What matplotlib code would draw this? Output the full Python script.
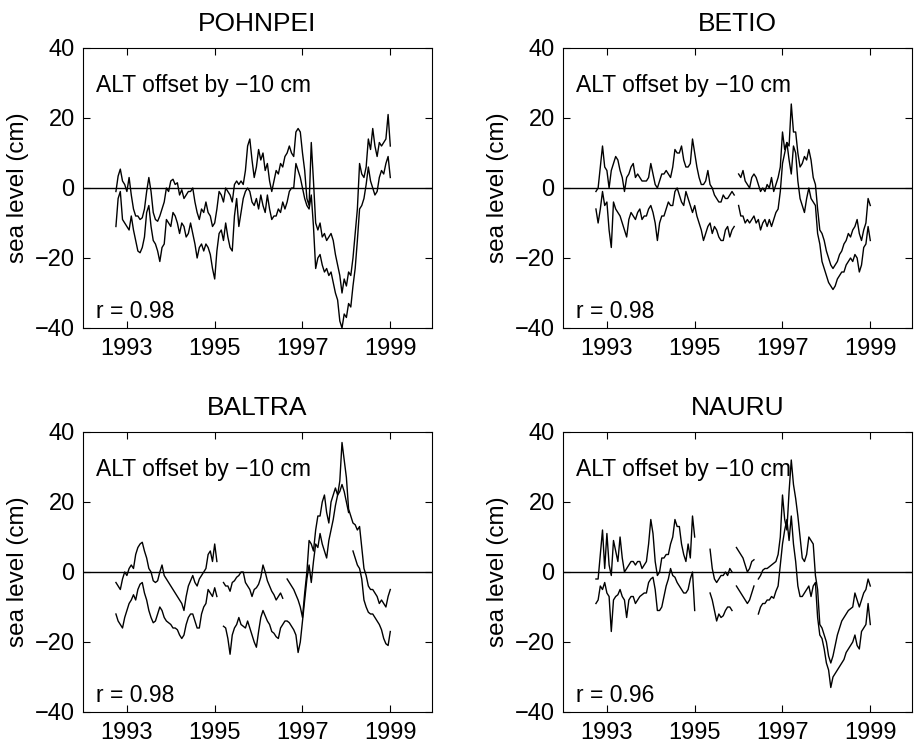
import numpy as np
import matplotlib
matplotlib.use('Agg')
import matplotlib.pyplot as plt

plt.rcParams['font.family'] = ['Liberation Sans', 'DejaVu Sans']

nan = np.nan

# sampling of the series: every 0.05 yr from 1992.75
t0 = 1992.75
dt = 0.05

# POHNPEI: tide gauge (upper) and altimeter offset by -10 cm (lower)
pohnpei_tg = [
    -1, 3.4, 5.4, 2, 1, -1, 3, -2, -6, -8,
    -8, -9, -8.5, -6, -1, 3, -1, -7, -9, -9.5,
    -8, -6, -4, 0, -1, 2, 2.5, 1, 1.5, -2,
    -0.5, -3, -2, -1, -1, 0, -4, -7, -9, -6,
    -7, -4, -7, -8, -11, -10, -6, -1, -2, -4,
    0, -1, -2, -4, 1, 2, 1, 2, 1, 5,
    12, 14, 8, 3, 6, 11, 8, 10, 5, 7,
    2, -1, 2, 5, 4, 7, 6, 9, 10, 12,
    10, 9, 16, 17, 16, 10, 5, -3, -5, 13,
    2, -10, -12, -10, -14, -13, -15, -14, -13, -15,
    -19, -22, -25, -30, -26, -28, -24, -25, -20, -13,
    -6, 7, 4, 3, 6, 14, 11, 17, 12, 9,
    13, 12, 13, 14, 21, 12]
pohnpei_alt = [
    -11, -3, -1, -9, -10, -11, -12, -8, -12, -15,
    -18, -18.5, -17, -14, -7, -5, -11, -15, -16, -18,
    -21, -17, -16, -9, -10, -11, -7, -8, -10, -13,
    -10, -11, -14, -13, -10, -13, -16, -20, -17, -16,
    -18, -16, -17, -19, -23, -26, -18, -13, -12, -15,
    -10, -14, -17, -18, -8, -3, -11, -7, -3, -1,
    0, -1, -4, -5, -3, -6, -2, -5, -7, -2,
    -6, -9, -8, -8, -6, -7, -4, -6, -4, -1,
    0, 0, 7, 5, 3, 0, -3, -5, -6, -2,
    -11, -23, -20, -19, -22, -24, -23, -25, -24, -27,
    -30, -32, -38, -40, -36, -37, -33, -34, -28, -23,
    -15, -6, -5, -3, 1, 6, 2, 0, -2, -1,
    3, 5, 4, 7, 9, 3]

# BETIO
betio_tg = [
    -1, 0, 6, 12, 6, 5, 0, 5, 7, 9,
    8, 5, 3, -1, 3, 4, 6, 7, 3, 4,
    3, 2, 2, 2, 3, 7, 4, 1, 0, 2,
    4, 4, 5, 4, 3, 6, 11, 10, 10, 12,
    8, 6, 6, 7, 14, 10, 6, 3, 1, 1,
    2, 5, 1, 0, -2, -3, -4, -4, -2, -3,
    -3, -2, -1, -2, nan, 4, 3, 5, 2, 1,
    0, 3, 4, 3, 1, -1, 0, -1, 1, 0,
    3, -1, 1, 3, 6, 16, 11, 13, 12, 24,
    16, 16, 10, 6, 7, 9, 8, 11, 8, 3,
    1, -6, -12, -13, -15, -18, -20, -22, -23, -22,
    -21, -19, -18, -16, -15, -13, -14, -12, -11, -9,
    -13, -15, -12, -10, -3, -5]
betio_alt = [
    -6, -10, -6, -1, -5, -4, -12, -17, -4, -6,
    -7, -8, -10, -12, -14, -9, -7, -8, -9, -7,
    -6, -9, -8, -8, -6, -5, -7, -10, -15, -10,
    -8, -8, -6, -4, -5, -5, -1, 0, -2, -4,
    -5, -1, -3, -5, -7, -5, -8, -10, -12, -15,
    -13, -11, -10, -13, -11, -12, -14, -15, -15, -12,
    -11, -14, -12, -11, nan, -5, -8, -8, -10, -9,
    -10, -9, -8, -10, -9, -12, -10, -9, -11, -9,
    -11, -9, -7, -6, -1, 7, 10, 13, 8, 4,
    12, 10, 2, -3, -5, -7, -3, 0, -3, -4,
    -5, -13, -16, -21, -23, -25, -27, -28, -29, -28,
    -26, -25, -24, -24, -22, -21, -20, -21, -19, -20,
    -24, -22, -17, -16, -11, -15]

# BALTRA
baltra_tg = [
    -3, -4, -5, -2, 0, -1, 1, 2, 1, 5,
    7, 8, 8.5, 6, 4, 1, 0, -2.5, -3, -2.5,
    0, 2, -1, -2, -3, -4, -5, -6, -7, -8,
    -9, -11, -7, -4, -2.5, -1, -3, -4, -2, -1,
    0, 1, 5, 6, 3, 8, 3, nan, nan, -3,
    -4, -4, -5.5, -3, -2.5, -1.5, -1, 0, 0, -3,
    -4, -5, -7, -5, -4.5, -3.5, -1.5, 2, 0, -2.5,
    -4, -5.5, -6.5, -8, -7, -6, -7.5, nan, -2, -3,
    -4, -5, -6.5, -8, -10, -13, -6, 0, 9, 8,
    6, 12, 16, 16, 20, 22, 17, 14, 20, 22,
    24, 22, 26, 37, 32, 27, 18, 16, 14, 13.5,
    12, 13, 7, 1, -1, -4, -5, -5, -6, -7,
    -9, -8, -9, -10, -7, -5]
baltra_alt = [
    -12, -14, -15, -16, -13, -11, -9, -8, -6.5, -8,
    -5, -3.5, -3, -6, -8, -11, -13, -14.5, -14, -12,
    -10, -11, -13, -14, -14.5, -15, -16, -16, -16.5, -18,
    -19, -18, -15, -13, -12, -12, -14, -16, -16, -12,
    -10, -9, -5, -6, -7, -4.5, -7, nan, nan, -15.5,
    -16, -19, -23.5, -18, -16, -15, -13, -15, -15.5, -16,
    -14, -16, -18, -20, -21.5, -17, -13, -11, -12.5, -14,
    -15, -17, -17.5, -18.5, -19, -16, -15, -14, -14, -14.5,
    -15.5, -16.5, -18, -23, -20, -14, -8, -2, 2, -3,
    3, 8, 7, 11, 8, 6, 4, 9, 12, 15,
    19, 22, 23, 25, 23, 20, 17, nan, 6, 4,
    2, 1, -2, -8, -10, -11.5, -12, -12, -13, -14,
    -15, -16.5, -19, -20.5, -21, -17]

# NAURU
nauru_tg = [
    -2, -2, 5, 12, 1, 11, 2, -1, 9, 6,
    3, 10, 4, 0, 1, 2, 3, 3, 2, 3,
    3, 1, 2, 3, 8, 15, 11, 3, -1, 0,
    4, 4, 5, 5, 8, 10, 15, 13, 13, 8,
    5, 3, 8, 4, 16, 10, nan, nan, nan, nan,
    nan, nan, 6.5, 1, -2, -3, -2, -1, -1, 0,
    -1, 1, 0, nan, 7, 6, 5, 4, 2, 0,
    1, 3, 3.5, nan, -2, -1, 0.5, 1, 1, 1.5,
    2, 2.5, 3, 5, 10, 22, 15, 12, 23, 32,
    25, 21, 16, 10, 4, 3, 5, 10, 9, 8,
    -1, -5, -15, -16, -18, -20, -24, -26, -24, -21,
    -18, -16, -14, -13, -12, -11, -10.5, -10, -6, -8,
    -10, -8, -6, -5, -2, -4]
nauru_alt = [
    -9, -8, -4, -5, -3, -6, -7, -17, -8, -7,
    -6.5, -5, -7, -8, -13, -8, -7, -7, -9, -8,
    -7, -6.5, -6, -6, -3, -2, -1.5, -5, -11, -11,
    -10, -7, -4, -2, 1, -1, -1.5, -3, -4, -5,
    -6, -6, -5, -2, 0, -11, nan, nan, nan, nan,
    nan, nan, -6, -8, -11, -14, -12, -13, -12.5, -11,
    -10, -10, -11, nan, -4, -5, -6, -7, -8, -9,
    -8, -6, -4, nan, -12, -10, -9, -9, -8, -8,
    -7, -7.5, -5.5, -4, 2, 8, 12, 15, 9, 16,
    8, 3, -4, -7, -7, -6, -5, -4, -7, -4,
    -3, -13, -18, -19, -22, -26, -28, -33, -30, -29,
    -28, -27, -26, -25, -23, -22, -21, -20, -18, -21,
    -22, -17, -16, -15, -9, -15]

stations = ['POHNPEI', 'BETIO', 'BALTRA', 'NAURU']
tide = [pohnpei_tg, betio_tg, baltra_tg, nauru_tg]
alti = [pohnpei_alt, betio_alt, baltra_alt, nauru_alt]
r_vals = ['0.98', '0.98', '0.98', '0.96']
xticks = [1993, 1995, 1997, 1999]
yticks = [-40, -20, 0, 20, 40]

W, H = 920, 748
fig = plt.figure(figsize=(W / 100, H / 100), dpi=100)
# axes boxes in pixels: left, top
boxes = [(83, 48), (563, 48), (83, 432), (563, 432)]
aw, ah = 349, 280

for i in range(4):
    l, top = boxes[i]
    ax = fig.add_axes([l / W, 1 - (top + ah) / H, aw / W, ah / H])
    tg = np.array(tide[i], dtype=float)
    al = np.array(alti[i], dtype=float)
    ax.plot(t0 + dt * np.arange(len(tg)), tg, color='k', lw=1.0)
    ax.plot(t0 + dt * np.arange(len(al)), al, color='k', lw=1.0)
    ax.axhline(0, color='k', lw=1.0)
    ax.set_xlim(1992, 1999.95)
    ax.set_ylim(-40, 40)
    ax.set_xticks(xticks)
    ax.set_yticks(yticks)
    ax.tick_params(direction='in', top=True, right=True, length=5,
                   width=0.8, labelsize=17)
    ax.tick_params(axis='x', pad=7)
    ax.tick_params(axis='y', pad=6)
    for s in ax.spines.values():
        s.set_linewidth(0.8)
    ax.set_title(stations[i], fontsize=19, pad=12)
    ax.set_ylabel('sea level (cm)', fontsize=17.5)
    ax.yaxis.set_label_coords(-0.155, 0.5)
    ax.text(1992.3, 27.5, 'ALT offset by \u221210 cm', fontsize=16.5)
    ax.text(1992.3, -37, 'r = ' + r_vals[i], fontsize=16.5)

fig.savefig('out.png', dpi=100, facecolor='white')
